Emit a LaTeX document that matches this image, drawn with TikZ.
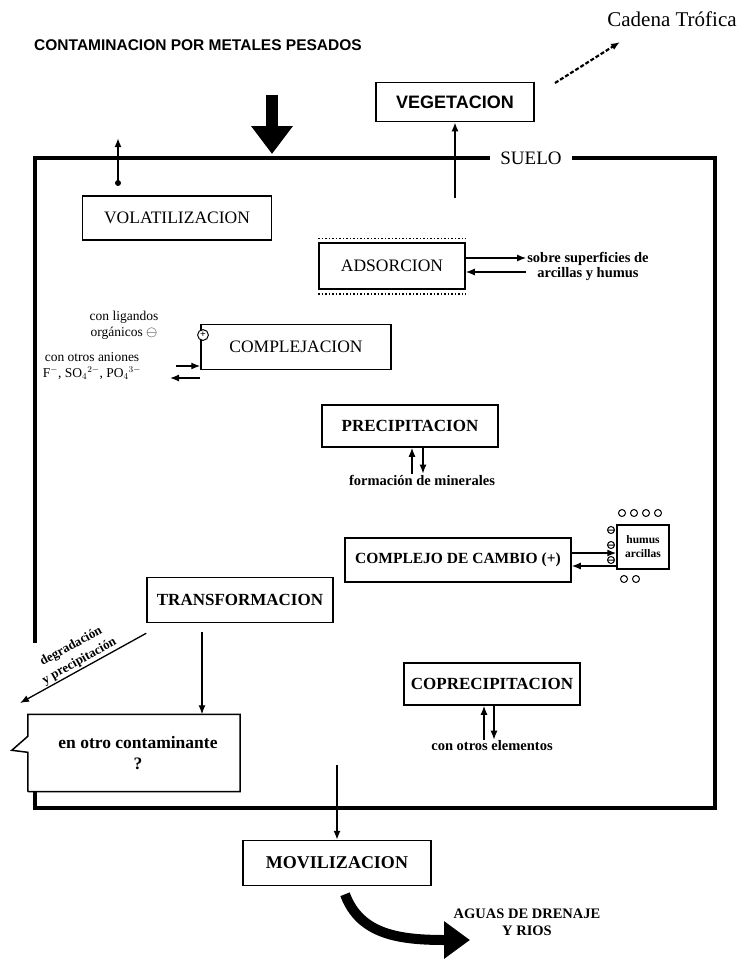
\documentclass[tikz,border=0pt]{standalone}
\usepackage{fontspec}
\setmainfont{Liberation Serif}
\newfontfamily\titlefont{Liberation Sans}
\usetikzlibrary{arrows.meta,positioning}

\begin{document}
\begin{tikzpicture}[x=1pt,y=-1pt,
  caja/.style={draw,line width=1.5pt,inner sep=0pt,font=\fontsize{17.5}{17.5}\selectfont},
  cajab/.style={caja,font=\bfseries\fontsize{17}{17}\selectfont},
  nota/.style={align=center,inner sep=1pt,font=\bfseries\fontsize{14.5}{15}\selectfont},
  flecha/.style={-{Latex[length=9pt,width=7pt]},line width=1.3pt},
  gorda/.style={line width=12pt,-{Triangle[length=28pt,width=40pt]}}]
\useasboundingbox (0,0) rectangle (745,966);

\node (0) at (198,45) {\titlefont\bfseries\fontsize{15.5}{15.5}\selectfont CONTAMINACION POR METALES PESADOS};
\node (1) at (672,19) {\fontsize{21}{21}\selectfont Cadena Trófica};
\node[caja,minimum width=158pt,minimum height=39pt,font=\titlefont\bfseries\fontsize{18}{18}\selectfont] (2) at (455,102) {VEGETACION};
\draw[line width=3.5pt] (490,158) -- (35,158) -- (35,643);
\draw[line width=3.5pt] (35,792) -- (35,808) -- (715,808) -- (715,158) -- (572,158);
\node[font=\fontsize{19}{19}\selectfont] (3) at (531,158) {SUELO};
\node[caja,minimum width=189pt,minimum height=44pt] (4) at (177,218) {VOLATILIZACION};
\node[caja,minimum width=146pt,minimum height=46pt] (5) at (392,266) {ADSORCION};
\node[nota] (6) at (588,266) {sobre superficies de\\arcillas y humus};
\node[caja,minimum width=190pt,minimum height=45pt] (7) at (296,347) {COMPLEJACION};
\node[circle,draw,line width=1pt,fill=white,inner sep=1pt,font=\bfseries\fontsize{10}{10}\selectfont] (8) at (203,335) {+};
\node[nota,font=\fontsize{13.5}{16}\selectfont] (9) at (124,325) {con ligandos\\orgánicos {\Large$\ominus$}};
\node[nota,font=\fontsize{13.5}{16}\selectfont] (10) at (92,366) {con otros aniones\\F$^-$, SO$_{4}{}^{2-}$, PO$_{4}{}^{3-}$};
\node[cajab,minimum width=176pt,minimum height=42pt] (11) at (410,426) {PRECIPITACION};
\node[nota] (12) at (422,480) {formación de minerales};
\node[cajab,minimum width=226pt,minimum height=44pt,font=\bfseries\fontsize{15.5}{15.5}\selectfont] (13) at (458,560) {COMPLEJO DE CAMBIO (+)};
\node[caja,minimum width=52pt,minimum height=44pt,align=center,font=\bfseries\fontsize{11.5}{14}\selectfont] (14) at (643,547) {humus\\arcillas};
\node[cajab,minimum width=186pt,minimum height=45pt] (15) at (240,600) {TRANSFORMACION};
\node[minimum width=212pt,minimum height=77pt,inner sep=0pt,align=center,font=\bfseries\fontsize{17.5}{21}\selectfont] (16) at (134,753) {\hspace*{8pt}en otro contaminante\\\hspace*{8pt}?};
\node[cajab,minimum width=176pt,minimum height=42pt] (17) at (492,684) {COPRECIPITACION};
\node[nota] (18) at (492,746) {con otros elementos};
\node[cajab,minimum width=188pt,minimum height=45pt,font=\bfseries\fontsize{18}{18}\selectfont] (19) at (337,863) {MOVILIZACION};
\node[nota,font=\bfseries\fontsize{14.5}{17}\selectfont] (20) at (527,922) {AGUAS DE DRENAJE\\Y RIOS};

\coordinate (a) at (272,95);
\coordinate (b) at (272,154);
\coordinate (c1) at (555,83);
\coordinate (c2) at (620,42);
\coordinate (v) at (118,183);
\coordinate (v2) at (118,138);
\coordinate (g) at (455,198);
\coordinate (k1) at (176,366);
\coordinate (k2) at (170,378);
\coordinate (d) at (20,703);
\coordinate (m) at (337,765);
\coordinate (w) at (470,940);

\draw[gorda] (a) -- (b);
\draw[flecha,line width=2.2pt,dash pattern=on 4pt off 2pt] (c1) -- (c2);
\fill (v) circle (3pt);
\draw[flecha,line width=2.8pt] (v) -- (v2);
\draw[flecha,line width=2.8pt] (g) -- (2.south);
\draw[line width=1.5pt,dotted] ([yshift=4pt]5.north west) -- ([yshift=4pt]5.north east);
\draw[line width=1.5pt,dotted] ([yshift=-4pt]5.south west) -- ([yshift=-4pt]5.south east);
\draw[flecha] ([yshift=8pt]5.east) -- ([yshift=8pt]5.east -| 6.west);
\draw[flecha] ([yshift=-6pt]5.east -| 6.west) -- ([yshift=-6pt]5.east);
\draw[flecha] (k1) -- (k1 -| 7.west);
\draw[flecha] (k2 -| 7.west) -- (k2);
\draw[flecha] ([xshift=-10pt]12.north) -- ([xshift=-10pt]12.north |- 11.south);
\draw[flecha] ([xshift=1pt]12.north |- 11.south) -- ([xshift=1pt]12.north);
\draw[flecha] ([yshift=7pt]13.east) -- ([yshift=7pt]13.east -| 14.west);
\draw[flecha] ([yshift=-6pt]13.east -| 14.west) -- ([yshift=-6pt]13.east);
\foreach \y in {530,545,560} \draw[line width=1pt] (611,\y) circle (3.5pt) (608.5,\y) -- (613.5,\y);
\foreach \x in {622,634,646,658} \draw[line width=1pt] (\x,513) circle (3.5pt);
\foreach \x in {624,636} \draw[line width=1pt] (\x,579) circle (3.5pt);
\draw[flecha] ([xshift=-38pt,yshift=-9pt]15.south) -- ([xshift=-38pt]15.south |- 16.north);
\draw[flecha] ([yshift=-10pt]15.south west) -- (d) node[midway,above,sloped,nota,font=\bfseries\fontsize{13}{17}\selectfont] {degradación\\y precipitación};
\draw[line width=1.5pt] (16.south west) -- (16.south east) -- (16.north east) -- (16.north west) -- ++(0,22) -- ++(-16,14) -- ++(16,2) -- (16.south west);
\draw[flecha] ([xshift=-8pt]18.north) -- ([xshift=-8pt]18.north |- 17.south);
\draw[flecha] ([xshift=2pt]18.north |- 17.south) -- ([xshift=2pt]18.north);
\draw[flecha] (m) -- (19.north);
\draw[line width=10pt,-{Triangle[length=26pt,width=36pt]}] ([xshift=8pt,yshift=-8pt]19.south) .. controls (360,935) and (400,940) .. (w);

\end{tikzpicture}
\end{document}
